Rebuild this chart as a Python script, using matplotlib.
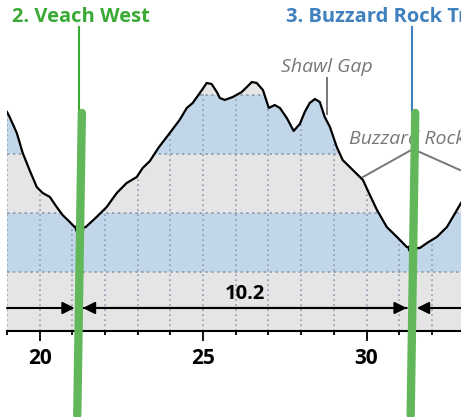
import numpy as np
import matplotlib.pyplot as plt
from matplotlib.path import Path

plt.rcParams['font.family'] = ['Open Sans', 'DejaVu Sans']

# elevation profile (mile, feet)
miles = [19.0, 19.08, 19.30, 19.48, 19.69, 19.91, 20.09, 20.31, 20.52, 20.70,
         20.92, 21.07, 21.22, 21.41, 21.74, 22.05, 22.36, 22.66, 22.97, 23.15,
         23.37, 23.64, 23.98, 24.28, 24.50, 24.68, 24.90, 25.11, 25.26, 25.42,
         25.51, 25.66, 25.91, 26.18, 26.34, 26.49, 26.64, 26.83, 27.01, 27.19,
         27.35, 27.56, 27.77, 27.96, 28.11, 28.26, 28.42, 28.57, 28.72, 28.88,
         29.09, 29.27, 29.58, 29.89, 30.10, 30.32, 30.62, 30.93, 31.23, 31.40,
         31.63, 31.85, 32.15, 32.46, 32.64, 32.89]
elev = [2356, 2314, 2178, 2009, 1864, 1720, 1670, 1636, 1551, 1483,
        1424, 1381, 1373, 1381, 1466, 1551, 1670, 1754, 1805, 1881,
        1940, 2055, 2178, 2288, 2390, 2432, 2517, 2602, 2593, 2525,
        2475, 2458, 2483, 2525, 2568, 2610, 2602, 2542, 2390, 2415,
        2390, 2305, 2195, 2255, 2356, 2432, 2466, 2441, 2314, 2229,
        2059, 1949, 1864, 1780, 1653, 1525, 1381, 1297, 1212, 1203,
        1203, 1246, 1297, 1381, 1466, 1585]

band_edges = [500, 1000, 1500, 2000, 2500, 3000]
band_colors = ['#e5e5e5', '#c2d6ea', '#e5e5e5', '#c2d6ea', '#e5e5e5']

trail_miles = [21.2, 31.4]
trail_names = ['2. Veach West', '3. Buzzard Rock Trail']
trail_colors = ['#3aaa35', '#4080be']
segment_miles = 10.2

major_ticks = [20, 25, 30]

fig = plt.figure(figsize=(4.61, 4.17), dpi=100)
ax = fig.add_axes([7 / 461, 86 / 417, 454 / 461, 331 / 417])
ax.set_xlim(19, 32.89)
ax.set_ylim(500, 3305)

# clip everything under the profile
verts = [(miles[0], 500)] + list(zip(miles, elev)) + [(miles[-1], 500)]
clip = Path(verts)

for lo, hi, c in zip(band_edges[:-1], band_edges[1:], band_colors):
    p = ax.axhspan(lo, hi, color=c, lw=0, zorder=1)
    p.set_clip_path(clip, ax.transData)

vl = ax.vlines(np.arange(19, 33), 500, 3300, colors='#8c9cae',
               linestyles=(0, (1, 2)), lw=1.2, zorder=2)
vl.set_clip_path(clip, ax.transData)
hl = ax.hlines(band_edges[1:-1], 19, 33, colors='#8c9cae',
               linestyles=(0, (1.5, 2)), lw=1.2, zorder=2)
hl.set_clip_path(clip, ax.transData)

ax.plot(miles, elev, color='black', lw=1.6, zorder=3, solid_joinstyle='round')

# trailhead markers
th_elev = np.interp(trail_miles, miles, elev)
ax.plot(trail_miles, th_elev, 'o', color='black', ms=6, zorder=4)

# distance dimension line
dim_y = 695
arrow = dict(arrowstyle='-|>,head_length=0.6,head_width=0.3', color='black',
             lw=1.5, shrinkA=0, shrinkB=0, mutation_scale=12)
ax.annotate('', xy=(trail_miles[0] - 0.13, dim_y), xytext=(19, dim_y),
            arrowprops=arrow, zorder=5)
ax.annotate('', xy=(trail_miles[0] + 0.12, dim_y), xytext=(trail_miles[1] - 0.17, dim_y),
            arrowprops=arrow, zorder=5)
ax.annotate('', xy=(trail_miles[1] - 0.17, dim_y), xytext=(trail_miles[0] + 0.12, dim_y),
            arrowprops=arrow, zorder=5)
ax.annotate('', xy=(trail_miles[1] + 0.14, dim_y), xytext=(32.9, dim_y),
            arrowprops=arrow, zorder=5)
ax.text(np.mean(trail_miles) - 0.03, 814, str(segment_miles), ha='center', va='center',
        fontsize=14.5, fontweight='bold', zorder=5)

# trail markers: thin line + thick green bar
for m, name, c in zip(trail_miles, trail_names, trail_colors):
    ax.plot([m, m], [2348, 3076], color=c, lw=1.5, zorder=6, clip_on=False)
    ax.plot([m + 0.09, m - 0.05], [2348, -212], color='#62b75a', lw=6,
            solid_capstyle='round', zorder=7, clip_on=False)
    ax.text(m - 2.06 if m < 25 else m - 3.86, 3165, name, color=c,
            fontsize=14.5, fontweight='bold', ha='left', va='center')

# feature labels
ax.text(28.78, 2737, 'Shawl Gap', color='#777777', style='italic',
        fontsize=14, ha='center', va='center')
ax.plot([28.80, 28.80], [2339, 2644], color='#777777', lw=1.4, zorder=3)
ax.text(29.46, 2127, 'Buzzard Rock', color='#777777', style='italic',
        fontsize=14, ha='left', va='center', zorder=6)
ax.plot([29.89, 31.42, 32.86], [1805, 2042, 1864], color='#777777', lw=1.4, zorder=6)

# axis
for s in ['left', 'right', 'top']:
    ax.spines[s].set_visible(False)
ax.spines['bottom'].set_linewidth(1.5)
ax.set_yticks([])
ax.set_xticks(major_ticks)
ax.set_xticks(np.arange(19, 33), minor=True)
ax.tick_params(axis='x', which='major', length=7.5, width=1.3, pad=5)
ax.tick_params(axis='x', which='minor', length=3, width=1.3)
for lab in ax.get_xticklabels():
    lab.set_fontweight('bold')
    lab.set_fontsize(15)

fig.savefig('out.png', dpi=100)
